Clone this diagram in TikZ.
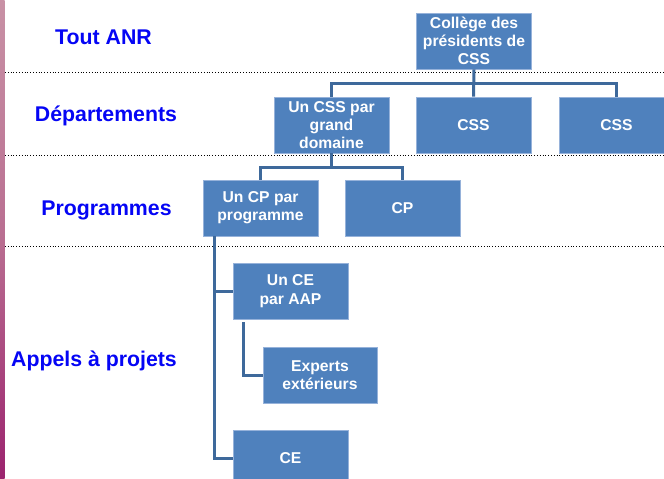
\documentclass[tikz,border=0pt]{standalone}
\usepackage{fontspec}
\setmainfont{Liberation Sans}
\usetikzlibrary{calc}
\definecolor{boxblue}{RGB}{79,129,189}
\definecolor{boxedge}{RGB}{150,178,218}
\definecolor{linkblue}{RGB}{62,105,155}
\definecolor{lblblue}{RGB}{5,5,245}
\begin{document}
\begin{tikzpicture}[x=1pt,y=-1pt,
  orgbox/.style={rectangle, fill=boxblue, draw=boxedge, line width=0.8pt,
    minimum width=115pt, minimum height=56pt, inner sep=1pt,
    text=white, align=center,
    font=\fontsize{15.7}{18.3}\selectfont\bfseries},
  lvl/.style={text=lblblue, font=\fontsize{21.3}{24}\selectfont\bfseries, inner sep=0pt},
  link/.style={draw=linkblue, line width=3pt},
  sep/.style={draw=black, line width=0.8pt, dotted}]
\useasboundingbox (0,0) rectangle (664,479);
\clip (0,0) rectangle (664,479);
\fill[white] (0,0) rectangle (664,479);
\shade[top color={rgb,255:red,200;green,145;blue,165}, bottom color={rgb,255:red,155;green,35;blue,110}, middle color={rgb,255:red,185;green,110;blue,145}] (0,0) rectangle (4.5,479);
% separators
\coordinate (s1a) at (5,72); \coordinate (s1b) at (664,72);
\coordinate (s2a) at (5,155); \coordinate (s2b) at (664,155);
\coordinate (s3a) at (5,246); \coordinate (s3b) at (664,246);
\draw[sep] (s1a) -- (s1b);
\draw[sep] (s2a) -- (s2b);
\draw[sep] (s3a) -- (s3b);
% level labels
\node[lvl] (l1) at (103.5,37) {Tout ANR};
\node[lvl] (l2) at (106,116) {Départements};
\node[lvl] (l3) at (106.5,210) {Programmes};
\node[lvl] (l4) at (94,361) {Appels à projets};
% boxes
\node[orgbox] (col) at (474,41) {Collège des\\présidents de\\CSS};
\node[orgbox] (css1) at (331.5,125) {Un CSS par\\grand\\domaine};
\node[orgbox] (css2) at (473.5,125) {CSS};
\node[orgbox] (css3) at (616.5,125) {CSS};
\node[orgbox] (cp1) at (260.5,208) {Un CP par\\programme};
\node[orgbox] (cp2) at (402.5,208) {CP};
\node[orgbox] (ce1) at (290.5,291) {Un CE\\par AAP};
\node[orgbox, minimum width=114pt] (exp) at (320,375) {Experts\\extérieurs};
\node[orgbox] (ce2) at (290.5,458) {CE};
% connectors
\coordinate (j1) at (474,83);
\draw[link] (col.south) -- (css2.north);
\draw[link] (css1.north) |- (j1) -| (css3.north);
\coordinate (j2) at (331.5,167);
\draw[link] (css1.south) -- (j2);
\draw[link] (cp1.north) |- (j2) -| (cp2.north);
\coordinate (t1) at (214,236);
\draw[link] (t1) |- (ce1.west);
\draw[link] (t1) |- (ce2.west);
\coordinate (t2) at (243,322);
\draw[link] (t2) |- (exp.west);
\end{tikzpicture}
\end{document}
